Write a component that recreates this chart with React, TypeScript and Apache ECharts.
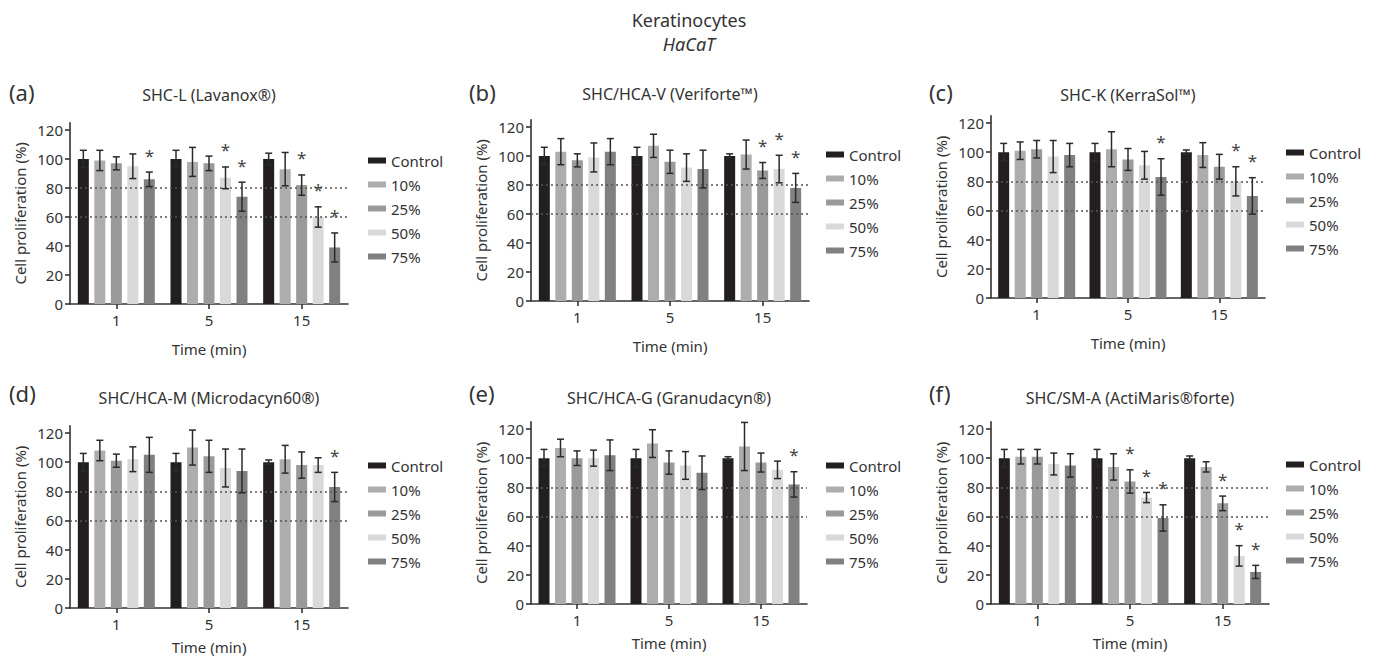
import React, { useEffect, useRef } from 'react';
import * as echarts from 'echarts';

// ---------- data ----------
const timeCategories = ['1', '5', '15'];
const concentrations = ['Control', '10%', '25%', '50%', '75%'];
const yTicks = [0, 20, 40, 60, 80, 100, 120];
const refLines = [80, 60];

// rows: Control, 10%, 25%, 50%, 75% ; cols: 1, 5, 15 min
const meanA = [[100, 100, 100], [99, 98, 93], [97, 97, 82], [95, 87, 60], [86, 74, 39]];
const errA = [[6, 6, 4], [7, 10, 11.5], [4.5, 5, 7], [8.5, 7.5, 7], [5, 10, 10]];
const sigA = [[0, 0, 0], [0, 0, 0], [0, 0, 1], [0, 1, 1], [1, 1, 1]];

const meanB = [[100, 100, 100], [103, 107, 101], [97, 96, 90], [99, 92, 91], [103, 91, 78]];
const errB = [[6, 6, 1.5], [9, 8, 10], [4.5, 8, 5.5], [10, 9.5, 9.5], [9, 13, 10]];
const sigB = [[0, 0, 0], [0, 0, 0], [0, 0, 1], [0, 0, 1], [0, 0, 1]];

const meanC = [[100, 100, 100], [101, 102, 98], [102, 95, 90], [97, 91, 80], [98, 83, 70]];
const errC = [[6, 6, 1.5], [6, 12, 8.5], [6, 7.5, 8.5], [11, 9.5, 10], [8, 12.5, 12.5]];
const sigC = [[0, 0, 0], [0, 0, 0], [0, 0, 0], [0, 0, 1], [0, 1, 1]];

const meanD = [[100, 100, 100], [108, 110, 102], [101, 104, 98], [102, 96, 98], [105, 94, 83]];
const errD = [[6, 6, 1.5], [7, 12, 9.5], [4.5, 11, 9], [8.5, 13, 5], [12, 15, 10]];
const sigD = [[0, 0, 0], [0, 0, 0], [0, 0, 0], [0, 0, 0], [0, 0, 1]];

const meanE = [[100, 100, 100], [107, 110, 108], [100, 97, 97], [100, 95, 92], [102, 90, 82]];
const errE = [[6, 6, 1], [6, 9.5, 16.5], [5, 8, 6.5], [5.5, 9.5, 6], [10.5, 11.5, 8.7]];
const sigE = [[0, 0, 0], [0, 0, 0], [0, 0, 0], [0, 0, 0], [0, 0, 1]];

const meanF = [[100, 100, 100], [101, 94, 94], [101, 84, 69], [96, 73, 33], [95, 59, 22]];
const errF = [[6, 6, 1.5], [5, 9, 3.5], [5, 8, 5], [7.5, 3.5, 7], [8, 9, 4.5]];
const sigF = [[0, 0, 0], [0, 0, 0], [0, 1, 1], [0, 1, 1], [0, 1, 1]];

const panelLetters = ['(a)', '(b)', '(c)', '(d)', '(e)', '(f)'];
const panelTitles = [
  'SHC-L (Lavanox®)',
  'SHC/HCA-V (Veriforte™)',
  'SHC-K (KerraSol™)',
  'SHC/HCA-M (Microdacyn60®)',
  'SHC/HCA-G (Granudacyn®)',
  'SHC/SM-A (ActiMaris®forte)',
];
const panelMeans = [meanA, meanB, meanC, meanD, meanE, meanF];
const panelErrs = [errA, errB, errC, errD, errE, errF];
const panelSigs = [sigA, sigB, sigC, sigD, sigE, sigF];

// ---------- layout / style ----------
const FONT = '"Noto Sans", "Open Sans", sans-serif';
const TEXT = '#333333';
const colors = ['#231f20', '#adadad', '#9a9a9a', '#d9d9d9', '#808080'];
const BAR_W = 11;
const BAR_PITCH = 16.5;

const layout = [
  { left: 70, top: 122.75, width: 278, height: 181.25, legendLeft: 368, legendTop: 153, letterX: 9, letterY: 92, titleY: 95, nameGapX: 37 },
  { left: 531, top: 119.75, width: 278, height: 181.25, legendLeft: 826, legendTop: 147, letterX: 469, letterY: 92, titleY: 94, nameGapX: 37 },
  { left: 991, top: 115.7, width: 274, height: 182.3, legendLeft: 1286, legendTop: 145, letterX: 929, letterY: 92, titleY: 95, nameGapX: 37 },
  { left: 70, top: 425.7, width: 278, height: 182.3, legendLeft: 368, legendTop: 458, letterX: 9, letterY: 393, titleY: 398, nameGapX: 31 },
  { left: 531, top: 421.7, width: 276, height: 182.3, legendLeft: 826, legendTop: 458, letterX: 469, letterY: 393, titleY: 398, nameGapX: 31 },
  { left: 991, top: 421.7, width: 278, height: 182.3, legendLeft: 1286, legendTop: 457, letterX: 929, letterY: 393, titleY: 398, nameGapX: 31 },
];

export default function App() {
  const ref = useRef<HTMLDivElement>(null);

  useEffect(() => {
    const chart = echarts.init(ref.current as HTMLDivElement, null, { renderer: 'svg' });
    const grid: any[] = [];
    const xAxis: any[] = [];
    const yAxis: any[] = [];
    const series: any[] = [];
    const legend: any[] = [];
    const graphic: any[] = [
      {
        type: 'text', x: 689, y: 20, silent: true,
        style: { text: 'Keratinocytes', fill: TEXT, fontSize: 18, fontFamily: FONT, textAlign: 'center', textVerticalAlign: 'middle' },
      },
      {
        type: 'text', x: 689, y: 44, silent: true,
        style: { text: 'HaCaT', fill: TEXT, fontSize: 18, fontStyle: 'italic', fontFamily: FONT, textAlign: 'center', textVerticalAlign: 'middle' },
      },
    ];

    panelTitles.forEach((title, i) => {
      const L = layout[i];
      const axisLine = { show: true, lineStyle: { color: TEXT, width: 1.6 } };
      grid.push({ left: L.left, top: L.top, width: L.width, height: L.height });
      xAxis.push({
        type: 'category', gridIndex: i, data: timeCategories,
        name: 'Time (min)', nameLocation: 'middle', nameGap: L.nameGapX,
        nameTextStyle: { fontSize: 15, color: TEXT, fontFamily: FONT },
        axisLine,
        axisTick: { show: true, alignWithLabel: true, length: 5, lineStyle: { color: TEXT, width: 1.6 } },
        axisLabel: { fontSize: 15, color: TEXT, margin: 8, fontFamily: FONT },
        splitLine: { show: false },
      });
      yAxis.push({
        type: 'value', gridIndex: i, min: 0, max: 125, interval: 20,
        name: 'Cell proliferation (%)', nameLocation: 'middle', nameGap: 43,
        nameTextStyle: { fontSize: 15, color: TEXT, fontFamily: FONT },
        axisLine,
        axisTick: { show: true, length: 5, customValues: yTicks, lineStyle: { color: TEXT, width: 1.6 } },
        axisLabel: {
          fontSize: 15, color: TEXT, margin: 7, fontFamily: FONT, customValues: yTicks,
          formatter: (v: number) => (v > 120 ? '' : String(v)),
        },
        splitLine: { show: false },
      });

      concentrations.forEach((c, s) => {
        series.push({
          type: 'bar', name: c, xAxisIndex: i, yAxisIndex: i,
          data: panelMeans[i][s], barWidth: BAR_W, barGap: '50%',
          itemStyle: { color: colors[s] },
          silent: true,
        });
      });

      const items: number[][] = [];
      concentrations.forEach((_, s) => {
        timeCategories.forEach((__, t) => {
          items.push([t, s, panelMeans[i][s][t], panelErrs[i][s][t], panelSigs[i][s][t]]);
        });
      });

      series.push({
        type: 'custom', name: 'err-' + i, xAxisIndex: i, yAxisIndex: i, z: 5,
        data: items, encode: { x: 0, y: 2 }, silent: true,
        renderItem: (_params: any, api: any) => {
          const cat = api.value(0);
          const s = api.value(1);
          const m = api.value(2);
          const e = api.value(3);
          const sig = api.value(4);
          const top = api.coord([cat, m + e]);
          const bot = api.coord([cat, m - e]);
          const x = top[0] + (s - 2) * BAR_PITCH;
          const st = { stroke: '#2a2a2a', lineWidth: 1.5 };
          const children: any[] = [
            { type: 'line', shape: { x1: x, y1: top[1], x2: x, y2: bot[1] }, style: st },
            { type: 'line', shape: { x1: x - 3.5, y1: top[1], x2: x + 3.5, y2: top[1] }, style: st },
            { type: 'line', shape: { x1: x - 3.5, y1: bot[1], x2: x + 3.5, y2: bot[1] }, style: st },
          ];
          if (sig) {
            children.push({
              type: 'text',
              style: { text: '*', x, y: top[1] - 17, fill: '#444444', fontSize: 17, fontFamily: FONT, textAlign: 'center', textVerticalAlign: 'middle' },
            });
          }
          return { type: 'group', children };
        },
        markLine: {
          silent: true, symbol: 'none', label: { show: false },
          lineStyle: { type: [2, 3], color: '#555555', width: 1.5 },
          data: refLines.map((v) => ({ yAxis: v })),
        },
      });

      legend.push({
        data: concentrations, left: L.legendLeft, top: L.legendTop, orient: 'vertical',
        icon: 'rect', itemWidth: 18, itemHeight: 6, itemGap: 9, padding: 0,
        selectedMode: false,
        textStyle: { fontSize: 15, color: TEXT, fontFamily: FONT, lineHeight: 15 },
      });

      graphic.push({
        type: 'text', x: L.letterX, y: L.letterY, silent: true,
        style: { text: panelLetters[i], fill: TEXT, fontSize: 22, fontFamily: FONT, textAlign: 'left', textVerticalAlign: 'middle' },
      });
      graphic.push({
        type: 'text', x: L.left + L.width / 2, y: L.titleY, silent: true,
        style: { text: title, fill: TEXT, fontSize: 16, fontFamily: FONT, textAlign: 'center', textVerticalAlign: 'middle' },
      });
    });

    chart.setOption({
      animation: false,
      backgroundColor: '#ffffff',
      textStyle: { fontFamily: FONT },
      grid, xAxis, yAxis, series, legend, graphic,
    });

    return () => chart.dispose();
  }, []);

  return (
    <div
      ref={ref}
      style={{ position: 'absolute', left: 0, top: 0, width: 1378, height: 660 }}
    />
  );
}
